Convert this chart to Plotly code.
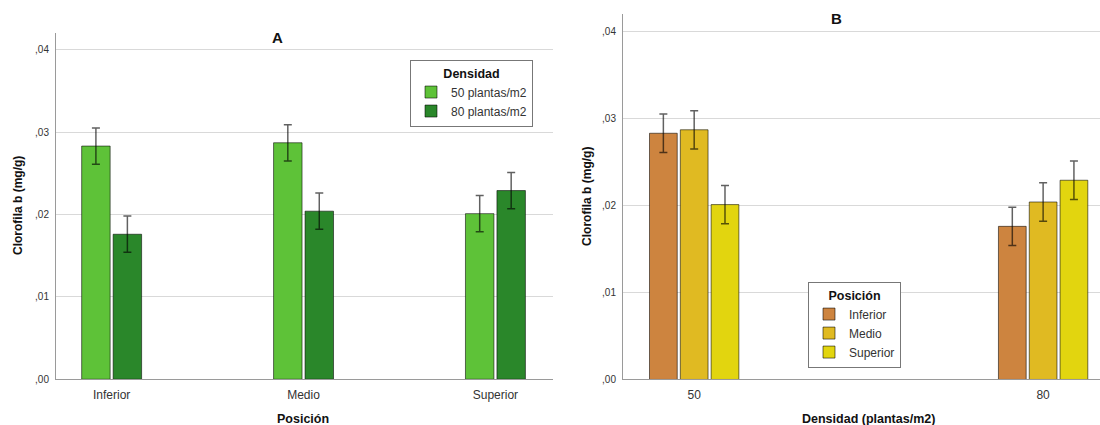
import plotly.graph_objects as go

# ---- data ----
positions = ["Inferior", "Medio", "Superior"]
densities = ["50", "80"]
density_names = ["50 plantas/m2", "80 plantas/m2"]
mean_50 = [0.0283, 0.0287, 0.0201]
mean_80 = [0.0176, 0.0204, 0.0229]
err_50 = [0.0022, 0.0022, 0.0022]
err_80 = [0.0022, 0.0022, 0.0022]
y_ticks = [0.0, 0.01, 0.02, 0.03, 0.04]
y_ticktext = [",00", ",01", ",02", ",03", ",04"]

green_colors = ["#5ec238", "#2a872a"]
pos_colors = ["#cd843f", "#e0ba22", "#e2d50f"]

# the captured viewport is slightly taller than 425 px; lay out in reference pixels
W, H = 1100, 432
S = H / 425.0
def px(x): return x / W
def py(y): return 1 - (y * S) / H

FONT = "Liberation Sans, Arial, sans-serif"
OUTLINE = dict(color="rgba(0,0,0,0.55)", width=1)
def ebar(arr):
    return dict(type="data", array=arr, visible=True, color="rgba(0,0,0,0.62)",
                thickness=1.5, width=4)

fig = go.Figure()

# Panel A: grouped by position, series = density
slot_a = 0.164
for i, (means, errs) in enumerate([(mean_50, err_50), (mean_80, err_80)]):
    fig.add_trace(go.Bar(
        x=positions, y=means, name=density_names[i],
        marker=dict(color=green_colors[i], line=OUTLINE),
        width=slot_a * 0.905, offset=(i - 1) * slot_a + slot_a * 0.0475,
        error_y=ebar(errs), xaxis="x", yaxis="y", legend="legend",
    ))

# Panel B: grouped by density, series = position
slot_b = 0.0883
for j, pos in enumerate(positions):
    fig.add_trace(go.Bar(
        x=densities, y=[mean_50[j], mean_80[j]], name=pos,
        marker=dict(color=pos_colors[j], line=OUTLINE),
        width=slot_b * 0.9, offset=(j - 1.5) * slot_b + slot_b * 0.05,
        error_y=ebar([err_50[j], err_80[j]]), xaxis="x2", yaxis="y2", legend="legend2",
    ))

grid = "#d9d9d9"
axline = "#9a9a9a"
tickfont = dict(family=FONT, size=10, color="#333333")
xtickfont = dict(family=FONT, size=12, color="#333333")

yax_common = dict(range=[0, 0.042], tickvals=y_ticks, ticktext=y_ticktext,
                  showgrid=True, gridcolor=grid, gridwidth=1, zeroline=False,
                  showline=True, linecolor=axline, linewidth=1, ticks="",
                  tickfont=tickfont, ticklabelstandoff=4, fixedrange=True)
xax_common = dict(type="category", showgrid=False, showline=True, linecolor=axline,
                  linewidth=1, ticks="", tickfont=xtickfont, zeroline=False,
                  ticklabelstandoff=4)

legend_common = dict(xanchor="left", yanchor="top", bgcolor="white",
                     bordercolor="#777777", borderwidth=1,
                     font=dict(family=FONT, size=12, color="#333333"),
                     itemwidth=30, tracegroupgap=0)

fig.update_layout(
    width=W, height=H,
    margin=dict(l=0, r=0, t=0, b=0),
    paper_bgcolor="white", plot_bgcolor="white",
    font=dict(family=FONT, color="#222222"),
    barmode="group",
    xaxis=dict(domain=[px(56), px(553)], anchor="y", range=[-0.29, 2.30], **xax_common),
    yaxis=dict(domain=[py(377.5), py(33)], anchor="x", **yax_common),
    xaxis2=dict(domain=[px(623), 1.0], anchor="y2", range=[-0.204, 1.163], **xax_common),
    yaxis2=dict(domain=[py(377.7), py(14)], anchor="x2", **yax_common),
    legend=dict(x=px(410), y=py(60),
                title=dict(text="<b>Densidad</b>", side="top center",
                           font=dict(family=FONT, size=12.5, color="#111111")),
                **legend_common),
    legend2=dict(x=px(808), y=py(281),
                 title=dict(text="<b>Posición</b>", side="top center",
                            font=dict(family=FONT, size=12.5, color="#111111")),
                 **legend_common),
    showlegend=True,
)

ann = []
def add_text(text, x, y, size, bold=False, angle=0, color="#111111"):
    ann.append(dict(text=(f"<b>{text}</b>" if bold else text), x=px(x), y=py(y),
                    xref="paper", yref="paper", showarrow=False, textangle=angle,
                    xanchor="center", yanchor="middle",
                    font=dict(family=FONT, size=size, color=color)))

add_text("A", 277, 37, 15, bold=True)
add_text("B", 836, 18, 15, bold=True)
add_text("Posición", 303, 417, 12.5, bold=True)
add_text("Densidad (plantas/m2)", 868, 417, 12.5, bold=True)
add_text("Clorofila b (mg/g)", 18, 205, 12, bold=True, angle=-90)
add_text("Clorofila b (mg/g)", 587, 196, 12, bold=True, angle=-90)
fig.update_layout(annotations=ann)

fig.write_html("out.html", config={"displayModeBar": False},
               post_script="document.body.style.margin='0px';document.body.style.overflow='hidden';")
